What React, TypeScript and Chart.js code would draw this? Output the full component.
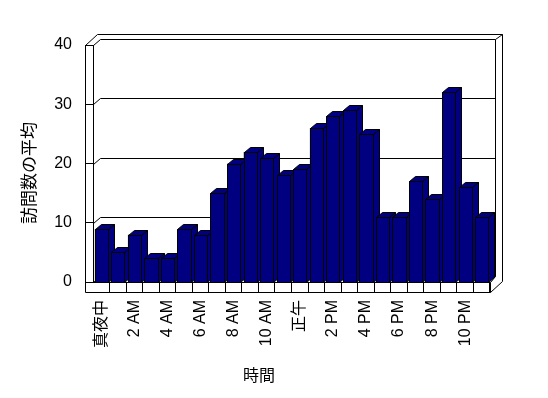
import React, { useEffect, useRef } from 'react';
import { Chart, registerables } from 'chart.js';

Chart.register(...registerables);

const hours: string[] = [
  '真夜中', '1 AM', '2 AM', '3 AM', '4 AM', '5 AM', '6 AM', '7 AM', '8 AM', '9 AM', '10 AM', '11 AM',
  '正午', '1 PM', '2 PM', '3 PM', '4 PM', '5 PM', '6 PM', '7 PM', '8 PM', '9 PM', '10 PM', '11 PM',
];
const visits: number[] = [9, 5, 8, 4, 4, 9, 8, 15, 20, 22, 21, 18, 19, 26, 28, 29, 25, 11, 11, 17, 14, 32, 16, 11];
const yTicks: number[] = [0, 10, 20, 30, 40];
const yTitle = '訪問数の平均';
const xTitle = '時間';

const NAVY = '#000080';
const FONT = '"Liberation Sans", "Noto Sans CJK JP", sans-serif';
const CJK = '"Noto Sans CJK JP", sans-serif';

const px = (v: number) => Math.round(v) + 0.5;

function poly(ctx: CanvasRenderingContext2D, pts: number[][], fill?: string) {
  ctx.beginPath();
  pts.forEach(([x, y], i) => (i ? ctx.lineTo(px(x), px(y)) : ctx.moveTo(px(x), px(y))));
  if (fill) {
    ctx.closePath();
    ctx.fillStyle = fill;
    ctx.fill();
  }
  ctx.stroke();
}

const framePlugin = {
  id: 'frame3d',
  beforeDatasetsDraw(chart: any) {
    const { ctx, chartArea, scales } = chart;
    const ys = scales.y;
    const L = chartArea.left;
    const R = chartArea.right;
    const T = ys.getPixelForValue(yTicks[yTicks.length - 1]);
    const B = ys.getPixelForValue(0);
    ctx.save();
    ctx.strokeStyle = '#000';
    ctx.lineWidth = 1;
    // back wall grid lines (with the diagonal on the left wall)
    yTicks.forEach((v) => {
      const y = ys.getPixelForValue(v);
      poly(ctx, [[L, y], [L + 7, y - 6], [R + 5, y - 6]]);
    });
    // right inner edge of back wall
    poly(ctx, [[R + 5, T - 6], [R + 5, B - 6]]);
    // outer frame
    poly(ctx, [[L - 8, B + 10], [L - 8, T], [L + 4, T - 11], [R + 12, T - 11], [R + 12, B - 1], [R, B + 10], [L - 8, B + 10]]);
    poly(ctx, [[R + 12, T - 11], [R + 5, T - 6]]);
    poly(ctx, [[L - 8, T], [L, T]]);
    // floor
    poly(ctx, [[L, B], [R, B], [R + 5, B - 6]]);
    poly(ctx, [[R, B], [R, B + 10]]);
    ctx.restore();
  },
  afterDatasetsDraw(chart: any) {
    const { ctx } = chart;
    const meta = chart.getDatasetMeta(0);
    ctx.save();
    ctx.strokeStyle = '#000';
    ctx.lineWidth = 1;
    const dx = 6;
    const dy = -5;
    meta.data.forEach((el: any) => {
      const { x, y, base, width } = el.getProps(['x', 'y', 'base', 'width'], true);
      const l = x - width / 2;
      const r = x + width / 2;
      poly(ctx, [[r, y], [r + dx, y + dy], [r + dx, base + dy], [r, base]], NAVY);
      poly(ctx, [[l, y], [l + dx, y + dy], [r + dx, y + dy], [r, y]], NAVY);
      poly(ctx, [[l, y], [r, y], [r, base], [l, base]], NAVY);
    });
    ctx.restore();
  },
  afterDraw(chart: any) {
    const { ctx } = chart;
    ctx.save();
    ctx.fillStyle = '#000';
    ctx.textAlign = 'center';
    ctx.textBaseline = 'middle';
    ctx.font = `17px ${CJK}`;
    ctx.translate(29, 173);
    ctx.rotate(-Math.PI / 2);
    ctx.fillText(yTitle, 0, 0);
    ctx.restore();
    ctx.save();
    ctx.fillStyle = '#000';
    ctx.textAlign = 'center';
    ctx.textBaseline = 'middle';
    ctx.font = `16px ${CJK}`;
    ctx.fillText(xTitle, 259, 375);
    ctx.restore();
  },
};

export default function App() {
  const ref = useRef<HTMLCanvasElement | null>(null);
  useEffect(() => {
    if (!ref.current) return;
    const chart = new Chart(ref.current, {
      type: 'bar',
      data: {
        labels: hours,
        datasets: [
          {
            data: visits,
            backgroundColor: NAVY,
            borderColor: '#000',
            borderWidth: 1,
            barPercentage: 0.8,
            categoryPercentage: 1,
          },
        ],
      },
      options: {
        responsive: false,
        devicePixelRatio: 1,
        animation: false,
        events: [],
        layout: { padding: { left: 0, top: 45, right: 58, bottom: 0 } },
        plugins: { legend: { display: false }, tooltip: { enabled: false }, title: { display: false } },
        scales: {
          x: {
            type: 'category',
            offset: true,
            border: { display: false },
            grid: {
              offset: true,
              drawOnChartArea: false,
              drawTicks: true,
              tickLength: 10,
              color: '#000',
              tickColor: (c: any) => (c.index === 0 ? 'rgba(0,0,0,0)' : '#000'),
            },
            ticks: {
              autoSkip: false,
              maxRotation: 90,
              minRotation: 90,
              padding: 8,
              color: '#000',
              font: { family: FONT, size: 16 },
              callback: (_v: any, i: number) => (i % 2 === 0 ? hours[i] : ''),
            },
            afterFit: (s: any) => {
              s.height = 398 - 282;
            },
          },
          y: {
            min: 0,
            max: 40,
            border: { display: true, color: '#000' },
            grid: { drawOnChartArea: false, drawTicks: true, tickLength: 8, color: '#000' },
            ticks: {
              stepSize: 10,
              padding: 13,
              color: '#000',
              font: { family: FONT, size: 16 },
            },
            afterFit: (s: any) => {
              s.width = 93;
            },
          },
        },
      },
      plugins: [framePlugin],
    });
    return () => chart.destroy();
  }, []);
  return (
    <div style={{ position: 'fixed', left: 0, top: 0, width: 548, height: 398, background: '#fff' }}>
      <canvas ref={ref} width={548} height={398} />
    </div>
  );
}
